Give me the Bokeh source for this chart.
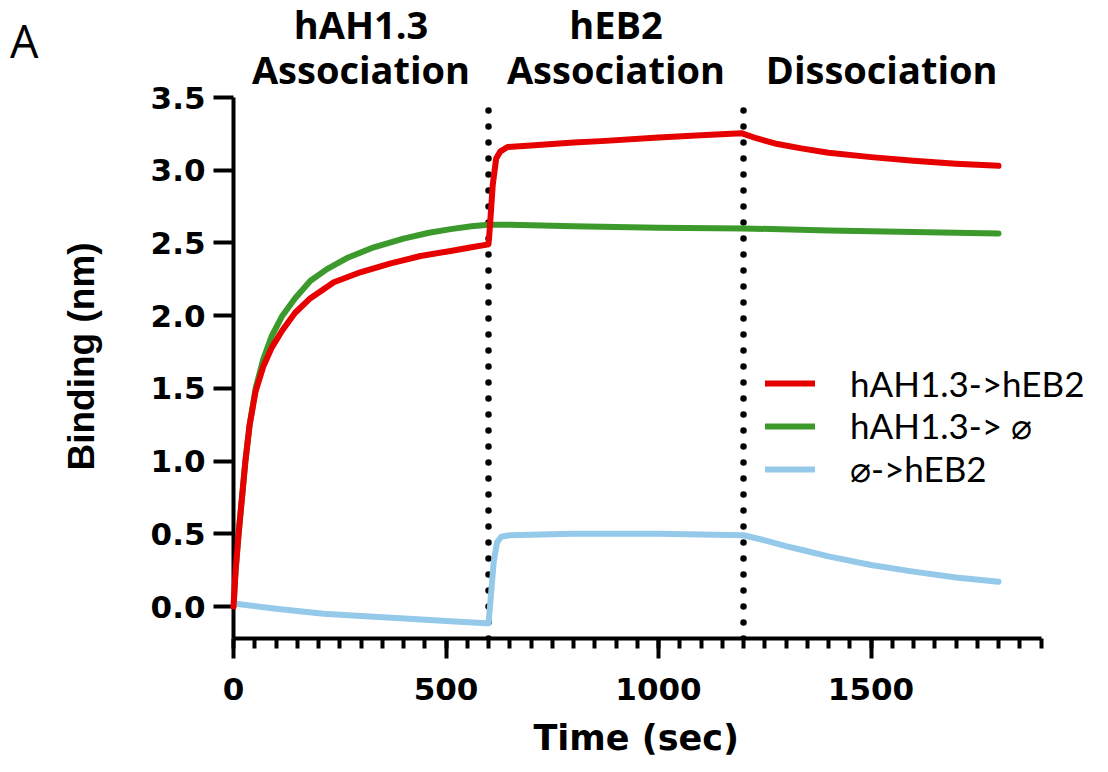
from bokeh.plotting import figure
from bokeh.layouts import column
from bokeh.models import (Range1d, FixedTicker, Legend, LegendItem, LabelSet, Title,
                          ColumnDataSource, NumeralTickFormatter)
from bokeh.core.properties import value
from bokeh.embed import file_html
from bokeh.resources import INLINE

# ---------------- data ----------------
time_red = [0, 5, 12, 20, 28, 38, 52, 70, 90, 115, 145, 181, 236, 300, 370, 440, 511, 560, 600,
            603, 610, 618, 628, 645, 700, 800, 865, 1000, 1100, 1195, 1230, 1280, 1336, 1400,
            1500, 1600, 1700, 1800]
bind_red = [0, 0.25, 0.5, 0.75, 1.0, 1.25, 1.48, 1.65, 1.78, 1.9, 2.02, 2.12, 2.23, 2.3, 2.36,
            2.41, 2.445, 2.47, 2.49, 2.6, 2.9, 3.08, 3.13, 3.16, 3.17, 3.19, 3.2, 3.225, 3.24,
            3.255, 3.22, 3.18, 3.15, 3.12, 3.09, 3.065, 3.045, 3.03]

time_green = [0, 5, 12, 20, 28, 38, 52, 70, 90, 115, 145, 181, 220, 270, 330, 400, 460, 511,
              560, 600, 650, 800, 1000, 1200, 1400, 1600, 1800]
bind_green = [0, 0.25, 0.5, 0.75, 1.0, 1.25, 1.5, 1.7, 1.86, 2.0, 2.12, 2.24, 2.32, 2.4, 2.47,
              2.53, 2.57, 2.595, 2.615, 2.625, 2.625, 2.615, 2.605, 2.6, 2.585, 2.575, 2.565]

time_blue = [0, 100, 212, 300, 393, 500, 595, 600, 605, 612, 620, 630, 650, 800, 1000, 1200,
             1250, 1300, 1336, 1400, 1500, 1600, 1700, 1800]
bind_blue = [0.02, -0.015, -0.05, -0.065, -0.08, -0.1, -0.115, -0.115, 0.05, 0.3, 0.44, 0.48,
             0.49, 0.5, 0.5, 0.49, 0.455, 0.415, 0.39, 0.345, 0.285, 0.24, 0.2, 0.17]

series_names = ["hAH1.3->hEB2", "hAH1.3-> \u2300", "\u2300->hEB2"]
series_colors = ["#e60000", "#3c9a2c", "#94c9ea"]

phase_bounds = [600, 1200]
phase_centers = [300, 900, 1525]
phase_line1 = ["hAH1.3", "hEB2", ""]
phase_line2 = ["Association", "Association", "Dissociation"]
panel_letter = "A"
x_title = "Time (sec)"
y_title = "Binding (nm)"

x_major = [0, 500, 1000, 1500]
x_minor = list(range(0, 1901, 50))
y_major = [0.0, 0.5, 1.0, 1.5, 2.0, 2.5, 3.0, 3.5]

X_MIN, X_AXIS_END = 0, 1900
Y_MIN, Y_MAX = -0.22, 3.5

# ---------------- layout constants ----------------
W = 1092
LEFT = 233          # frame left (px)
PX_PER_SEC = 0.425  # horizontal scale
HEADER_H = 85
TOP = 12
FRAME_H = 541
BOTTOM = 134
X_END = X_MIN + (W - LEFT) / PX_PER_SEC

# ---------------- main figure ----------------
p = figure(width=W, height=TOP + FRAME_H + BOTTOM, output_backend="svg", toolbar_location=None,
           x_range=Range1d(X_MIN, X_END), y_range=Range1d(Y_MIN, Y_MAX),
           min_border_left=LEFT, min_border_right=0, min_border_top=TOP,
           min_border_bottom=BOTTOM)
p.outline_line_color = None
p.xgrid.visible = False
p.ygrid.visible = False

# dotted phase boundaries
p.segment(x0=phase_bounds, x1=phase_bounds, y0=[Y_MIN] * len(phase_bounds),
          y1=[Y_MAX] * len(phase_bounds), line_color="black", line_width=6.5,
          line_dash="0 16", line_cap="round")

renderers = []
for t, b, c in [(time_red, bind_red, series_colors[0]),
                (time_green, bind_green, series_colors[1]),
                (time_blue, bind_blue, series_colors[2])]:
    r = p.line(t, b, line_color=c, line_width=6, line_join="round", line_cap="round")
    renderers.append(r)
renderers[0].level = "overlay"

legend = Legend(items=[LegendItem(label=n, renderers=[r]) for n, r in zip(series_names, renderers)],
                location=(532, 148), orientation="vertical",
                glyph_width=50, glyph_height=42, label_height=42, label_standoff=35,
                spacing=0, padding=0, margin=0,
                border_line_color=None, background_fill_alpha=0,
                label_text_font="Lato", label_text_font_size="35px",
                label_text_color="black", label_text_baseline="middle")
p.add_layout(legend)

for ax in (p.xaxis[0], p.yaxis[0]):
    ax.axis_line_width = 4
    ax.axis_line_color = "black"
    ax.major_tick_line_width = 4
    ax.minor_tick_line_width = 4
    ax.major_tick_in = 0
    ax.major_tick_out = 20
    ax.minor_tick_in = 0
    ax.minor_tick_out = 10
    ax.major_label_text_font = "DejaVu Sans"
    ax.major_label_text_font_style = "bold"
    ax.major_label_text_font_size = "31px"
    ax.major_label_text_color = "black"

p.xaxis[0].ticker = FixedTicker(ticks=x_major, minor_ticks=x_minor)
p.xaxis[0].bounds = (X_MIN, X_AXIS_END)
p.yaxis[0].ticker = FixedTicker(ticks=y_major, minor_ticks=[])
p.yaxis[0].formatter = NumeralTickFormatter(format="0.0")
p.xaxis[0].major_label_standoff = 19
p.yaxis[0].major_label_standoff = 8

# axis titles (as panel titles so they can sit on the drawn axis extent)
p.add_layout(Title(text=x_title, align="left", offset=300, standoff=26,
                   text_font="DejaVu Sans", text_font_size="35px", text_font_style="bold",
                   text_color="black"), "below")
p.add_layout(Title(text=y_title, align="left", offset=168, standoff=92,
                   text_font="Liberation Sans", text_font_size="37px", text_font_style="bold",
                   text_color="black"), "left")

# ---------------- header (phase titles + panel letter) ----------------
hdr = figure(width=W, height=HEADER_H, output_backend="svg", toolbar_location=None,
             x_range=p.x_range, y_range=Range1d(0, HEADER_H), x_axis_type=None,
             min_border_left=LEFT, min_border_right=0, min_border_top=0, min_border_bottom=0)
hdr.outline_line_color = None
hdr.xgrid.visible = False
hdr.ygrid.visible = False

src1 = ColumnDataSource(dict(x=phase_centers, y=[47] * 3, t=phase_line1))
src2 = ColumnDataSource(dict(x=phase_centers, y=[2] * 3, t=phase_line2))
for s in (src1, src2):
    hdr.add_layout(LabelSet(x="x", y="y", text="t", source=s, text_align="center",
                            text_baseline="alphabetic", text_font=value("Open Sans"),
                            text_font_style="bold", text_font_size="38px", text_color="black"))

# panel letter rendered as the header's single left tick label
hax = hdr.yaxis[0]
hax.ticker = FixedTicker(ticks=[45], minor_ticks=[])
hax.major_label_overrides = {45: panel_letter}
hax.axis_line_color = None
hax.major_tick_line_color = None
hax.major_tick_out = 0
hax.major_tick_in = 0
hax.major_label_standoff = LEFT - 38
hax.major_label_text_font = "Open Sans"
hax.major_label_text_font_size = "45px"
hax.major_label_text_color = "black"

layout = column(hdr, p, spacing=0)
open("out.html", "w").write(file_html(layout, INLINE))
